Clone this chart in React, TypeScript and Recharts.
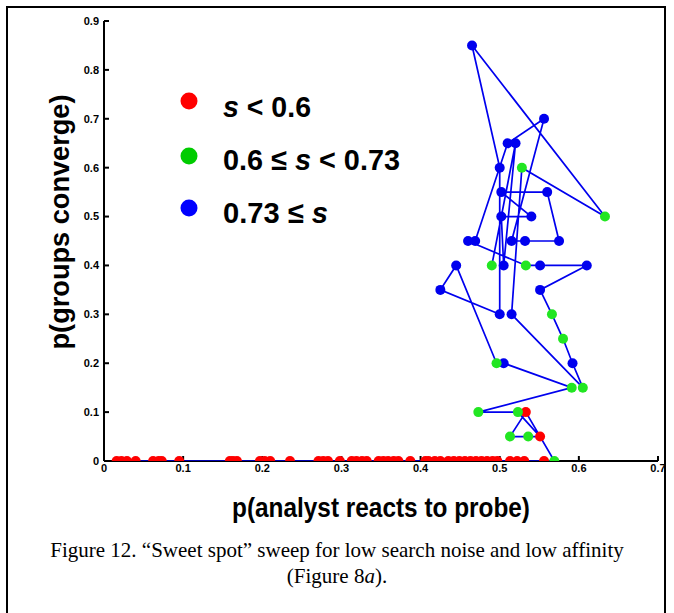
import React from 'react';
import { ScatterChart, Scatter, XAxis, YAxis } from 'recharts';

// sweep results, in the order the run visited them
const pReact = [
  0.016, 0.022, 0.029, 0.04, 0.062, 0.069, 0.073, 0.095, 0.159, 0.163, 0.168, 0.197,
  0.203, 0.21, 0.235, 0.271, 0.277, 0.283, 0.298, 0.313, 0.319, 0.326, 0.332, 0.347,
  0.353, 0.359, 0.366, 0.372, 0.387, 0.406, 0.41, 0.418, 0.425, 0.435, 0.442, 0.449,
  0.456, 0.463, 0.47, 0.477, 0.484, 0.491, 0.497, 0.513, 0.522, 0.531, 0.556,
  0.569, 0.533, 0.513, 0.536, 0.551, 0.523, 0.473, 0.591, 0.505, 0.496, 0.445, 0.425,
  0.5, 0.5, 0.465, 0.633, 0.528, 0.515, 0.605, 0.592, 0.58, 0.566, 0.551, 0.61,
  0.551, 0.533, 0.46, 0.469, 0.51, 0.556, 0.515, 0.532, 0.575, 0.56, 0.502, 0.54,
  0.502, 0.505, 0.52, 0.49,
];
const pConverge = [
  0, 0, 0, 0, 0, 0, 0, 0, 0, 0, 0, 0,
  0, 0, 0, 0, 0, 0, 0, 0, 0, 0, 0, 0,
  0, 0, 0, 0, 0, 0, 0, 0, 0, 0, 0, 0,
  0, 0, 0, 0, 0, 0, 0, 0, 0, 0, 0,
  0, 0.1, 0.05, 0.05, 0.05, 0.1, 0.1, 0.15, 0.2, 0.2, 0.4, 0.35,
  0.3, 0.6, 0.85, 0.5, 0.6, 0.3, 0.15, 0.2, 0.25, 0.3, 0.35, 0.4,
  0.4, 0.4, 0.45, 0.45, 0.65, 0.7, 0.45, 0.45, 0.45, 0.55, 0.55, 0.5,
  0.5, 0.4, 0.65, 0.4,
];
// 0: s < 0.6, 1: 0.6 <= s < 0.73, 2: 0.73 <= s
const sBand = [
  0, 0, 0, 0, 0, 0, 0, 0, 0, 0, 0, 0,
  0, 0, 0, 0, 0, 0, 0, 0, 0, 0, 0, 0,
  0, 0, 0, 0, 0, 0, 0, 0, 0, 0, 0, 0,
  0, 0, 0, 0, 0, 0, 0, 0, 0, 0, 0,
  1, 0, 1, 1, 0, 1, 1, 1, 2, 1, 2, 2,
  2, 2, 2, 1, 1, 2, 1, 2, 1, 1, 2, 2,
  2, 1, 2, 2, 2, 2, 2, 2, 2, 2, 2, 2,
  2, 2, 2, 1,
];

const xTicks = [0, 0.1, 0.2, 0.3, 0.4, 0.5, 0.6, 0.7];
const yTicks = [0, 0.1, 0.2, 0.3, 0.4, 0.5, 0.6, 0.7, 0.8, 0.9];

const bandColors = ['#ff0000', '#22e622', '#0000ee'];
const legendColors = ['#ff0000', '#00cc00', '#0000ff'];

const data = pReact.map((x, i) => ({ x, y: pConverge[i], band: sBand[i] }));

const fmt = (v: number) => (v === 0 ? '0' : v.toFixed(1));

const tickStyle = { fill: '#000', fontSize: 11, fontWeight: 700, fontFamily: 'Liberation Sans, Arial, sans-serif' };
const axisLineStyle = { stroke: '#000', strokeWidth: 2 };

const Dot = (props: any) => (
  <circle cx={props.cx} cy={props.cy} r={5} fill={bandColors[props.payload.band]} />
);

const bold = { fontFamily: 'Liberation Sans, Arial, sans-serif', fontWeight: 700, fill: '#000' };

export default function App() {
  return (
    <div style={{ position: 'absolute', left: 0, top: 0, width: 674, height: 613, overflow: 'hidden', background: '#fff' }}>
      <div
        style={{
          position: 'absolute', left: 6, top: 6, width: 660, height: 640,
          boxSizing: 'border-box', border: '2px solid #000', borderBottom: 'none',
        }}
      />
      <div style={{ position: 'absolute', left: 0, top: 0 }}>
        <ScatterChart width={674} height={613} margin={{ top: 21, right: 16, bottom: 122, left: 64 }}>
          <XAxis
            type="number" dataKey="x" domain={[0, 0.7]} ticks={xTicks} tickFormatter={fmt}
            height={30} tickSize={-5} tickMargin={8} tick={tickStyle}
            axisLine={axisLineStyle} tickLine={axisLineStyle} allowDataOverflow
          />
          <XAxis
            xAxisId="t" orientation="top" type="number" domain={[0, 0.7]} ticks={xTicks}
            height={0} tickSize={-5} tick={false} axisLine={axisLineStyle} tickLine={axisLineStyle}
          />
          <YAxis
            type="number" dataKey="y" domain={[0, 0.9]} ticks={yTicks} tickFormatter={fmt}
            width={40} tickSize={-5} tickMargin={10} tick={tickStyle}
            axisLine={axisLineStyle} tickLine={axisLineStyle} allowDataOverflow
          />
          <YAxis
            yAxisId="r" orientation="right" type="number" domain={[0, 0.9]} ticks={yTicks}
            width={0} tickSize={-5} tick={false} axisLine={axisLineStyle} tickLine={axisLineStyle}
          />
          <Scatter
            data={data}
            line={{ stroke: '#0000ee', strokeWidth: 1.7 }}
            lineType="joint"
            shape={Dot}
            isAnimationActive={false}
          />
        </ScatterChart>
      </div>
      <svg width={674} height={613} style={{ position: 'absolute', left: 0, top: 0, pointerEvents: 'none' }}>
        {/* legend */}
        <circle cx={189} cy={101} r={8.5} fill={legendColors[0]} />
        <circle cx={189} cy={156} r={8.5} fill={legendColors[1]} />
        <circle cx={189} cy={208} r={8.5} fill={legendColors[2]} />
        <text x={223} y={117} fontSize={30} textLength={88} lengthAdjust="spacingAndGlyphs" style={bold}>
          <tspan fontStyle="italic">s</tspan> &lt; 0.6
        </text>
        <text x={223} y={170} fontSize={30} textLength={177} lengthAdjust="spacingAndGlyphs" style={bold}>
          0.6 ≤ <tspan fontStyle="italic">s</tspan> &lt; 0.73
        </text>
        <text x={223} y={223} fontSize={30} textLength={105} lengthAdjust="spacingAndGlyphs" style={bold}>
          0.73 ≤ <tspan fontStyle="italic">s</tspan>
        </text>
        {/* axis titles */}
        <text x={381} y={517} fontSize={28} textAnchor="middle" textLength={298} lengthAdjust="spacingAndGlyphs" style={bold}>
          p(analyst reacts to probe)
        </text>
        <text
          x={0} y={0} fontSize={28} textAnchor="middle" textLength={255} lengthAdjust="spacingAndGlyphs"
          transform="translate(69 222) rotate(-90)" style={bold}
        >
          p(groups converge)
        </text>
      </svg>
      <div
        style={{
          position: 'absolute', left: 8, top: 537, width: 658, textAlign: 'center',
          fontFamily: 'Liberation Serif, Times New Roman, serif', fontSize: 21, lineHeight: '26px', color: '#000',
        }}
      >
        Figure 12. “Sweet spot” sweep for low search noise and low affinity
        <br />
        (Figure 8<i>a</i>).
      </div>
    </div>
  );
}
